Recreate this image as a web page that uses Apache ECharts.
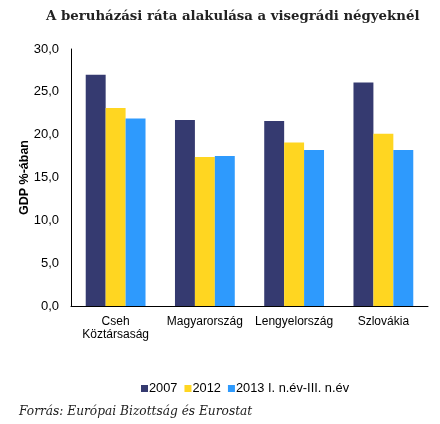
<!DOCTYPE html>
<html><head><meta charset="utf-8">
<script src="https://cdn.jsdelivr.net/npm/echarts@6/dist/echarts.min.js"></script>
<style>html,body{margin:0;padding:0;background:#fff}#c{width:440px;height:424px}</style>
</head><body><div id="c"></div>
<script>
const categories = ['Cseh\nKöztársaság', 'Magyarország', 'Lengyelország', 'Szlovákia'];
const seriesNames = ['2007', '2012', '2013 I. n.év-III. n.év'];
const v2007 = [27.0, 21.7, 21.6, 26.1];
const v2012 = [23.1, 17.4, 19.1, 20.1];
const v2013 = [21.9, 17.5, 18.2, 18.2];
const yTicks = [0, 5, 10, 15, 20, 25, 30];
const colors = ['#353A70', '#FFD621', '#2E9AFD'];
const chart = echarts.init(document.getElementById('c'), null, {renderer: 'canvas'});
const data = [v2007, v2012, v2013];
chart.setOption({
  animation: false,
  title: [{
    text: 'A beruházási ráta alakulása a visegrádi négyeknél',
    left: 41, top: 5,
    textStyle: {fontFamily: 'DejaVu Serif', fontWeight: 'bold', fontSize: 13.3, color: '#222'}
  }, {
    text: 'Forrás: Európai Bizottság és Eurostat',
    left: 14, top: 401,
    textStyle: {fontFamily: 'DejaVu Serif', fontStyle: 'italic', fontWeight: 'normal', fontSize: 12.2, color: '#222'}
  }],
  legend: {
    data: seriesNames, top: 377, left: 136, itemWidth: 7, itemHeight: 7, itemGap: 7,
    icon: 'rect', textStyle: {fontFamily: 'Liberation Sans', fontSize: 12.8, color: '#000', padding: [0,0,0,-4]}
  },
  grid: {left: 71, right: 12, top: 49, bottom: 118},
  xAxis: {
    type: 'category', data: categories,
    axisLine: {lineStyle: {color: '#000'}}, axisTick: {show: false},
    axisLabel: {fontFamily: 'Liberation Sans', fontSize: 12, color: '#000', margin: 9, lineHeight: 13, interval: 0}
  },
  yAxis: {
    type: 'value', min: 0, max: 30, interval: 5,
    name: 'GDP %-ában', nameLocation: 'middle', nameGap: 40, nameRotate: 90, nameMoveOverlap: false,
    nameTextStyle: {fontFamily: 'Liberation Sans', fontSize: 12.5, fontWeight: 'bold', color: '#000'},
    axisLine: {show: true, lineStyle: {color: '#000'}}, axisTick: {show: false}, splitLine: {show: false},
    axisLabel: {fontFamily: 'Liberation Sans', fontSize: 13, color: '#000', margin: 12,
      formatter: v => yTicks.includes(v) ? v.toFixed(1).replace('.', ',') : ''}
  },
  series: seriesNames.map((n, i) => ({
    name: n, type: 'bar', data: data[i], barGap: '0%', barCategoryGap: '33%',
    itemStyle: {color: colors[i]}
  }))
});
</script></body></html>
